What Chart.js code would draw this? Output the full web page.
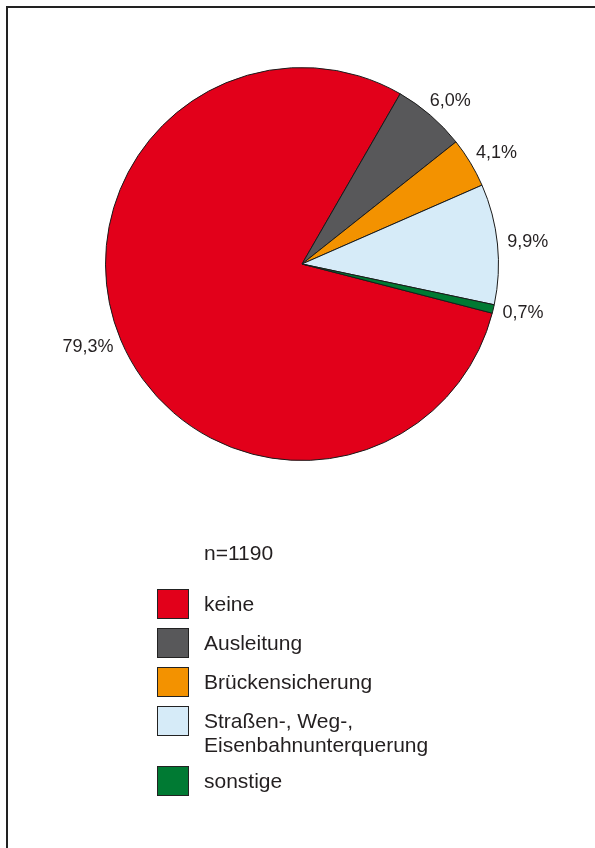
<!DOCTYPE html>
<html lang="de">
<head>
<meta charset="utf-8">
<title>Sicherungsmaßnahmen</title>
<script src="https://cdn.jsdelivr.net/npm/chart.js@4/dist/chart.umd.min.js"></script>
<style>
  html, body { margin: 0; padding: 0; background: #fff; }
  body { width: 595px; height: 848px; position: relative; overflow: hidden;
         font-family: "Liberation Sans", Arial, sans-serif; color: #231f20; }
  .rahmen { position: absolute; left: 6px; top: 6px; width: 620px; height: 880px;
            border-top: 2px solid #222; border-left: 2px solid #222; }
  #wrap { position: absolute; left: 0; top: 0; width: 595px; height: 848px; }
  .n { position: absolute; left: 204px; top: 541px; font-size: 21px; line-height: 24px; }
  #legende { position: absolute; left: 157px; top: 589px; }
  .zeile { display: flex; align-items: flex-start; margin-bottom: 9px; }
  .kasten { width: 30px; height: 28px; border: 1px solid #222; flex: none; }
  .text { margin-left: 15px; padding-top: 3px; font-size: 21px; line-height: 24px; white-space: pre; }
</style>
</head>
<body>
<div class="rahmen"></div>
<div id="wrap"><canvas id="kreis"></canvas></div>
<div class="n">n=1190</div>
<div id="legende"></div>
<script>
// Kategorien und Anteile in Prozent
const kategorien = ['keine', 'Ausleitung', 'Brückensicherung', 'Straßen-, Weg-,\nEisenbahnunterquerung', 'sonstige'];
const anteile = [79.3, 6.0, 4.1, 9.9, 0.7];
const farben = ['#e2001a', '#58585a', '#f39200', '#d6ebf8', '#007a33'];

// Prozentwerte außen neben die Segmente schreiben
const prozentLabels = {
  id: 'prozentLabels',
  afterDatasetsDraw(chart) {
    const ctx = chart.ctx;
    const meta = chart.getDatasetMeta(0);
    ctx.save();
    ctx.font = '18px "Liberation Sans", Arial, sans-serif';
    ctx.fillStyle = '#231f20';
    ctx.textAlign = 'center';
    ctx.textBaseline = 'middle';
    meta.data.forEach((arc, i) => {
      const mid = (arc.startAngle + arc.endAngle) / 2;
      const r = arc.outerRadius + 10;
      const text = anteile[i].toFixed(1).replace('.', ',') + '%';
      const w = ctx.measureText(text).width;
      const cx = arc.x + Math.cos(mid) * r + Math.cos(mid) * w / 2;
      const cy = arc.y + Math.sin(mid) * r + Math.sin(mid) * 9;
      ctx.fillText(text, cx, cy);
    });
    ctx.restore();
  }
};

new Chart(document.getElementById('kreis'), {
  type: 'pie',
  data: {
    labels: kategorien,
    datasets: [{
      data: anteile,
      backgroundColor: farben,
      borderColor: '#1a1a1a',
      borderWidth: 1
    }]
  },
  options: {
    responsive: true,
    maintainAspectRatio: false,
    animation: false,
    rotation: 104.5,
    layout: { padding: { left: 105, right: 96, top: 67, bottom: 387 } },
    plugins: {
      legend: { display: false },
      tooltip: { enabled: false }
    }
  },
  plugins: [prozentLabels]
});

// Legende unter dem Diagramm
const legende = document.getElementById('legende');
kategorien.forEach((name, i) => {
  const zeile = document.createElement('div');
  zeile.className = 'zeile';
  const kasten = document.createElement('div');
  kasten.className = 'kasten';
  kasten.style.background = farben[i];
  const text = document.createElement('div');
  text.className = 'text';
  text.textContent = name;
  zeile.appendChild(kasten);
  zeile.appendChild(text);
  legende.appendChild(zeile);
});
</script>
</body>
</html>
